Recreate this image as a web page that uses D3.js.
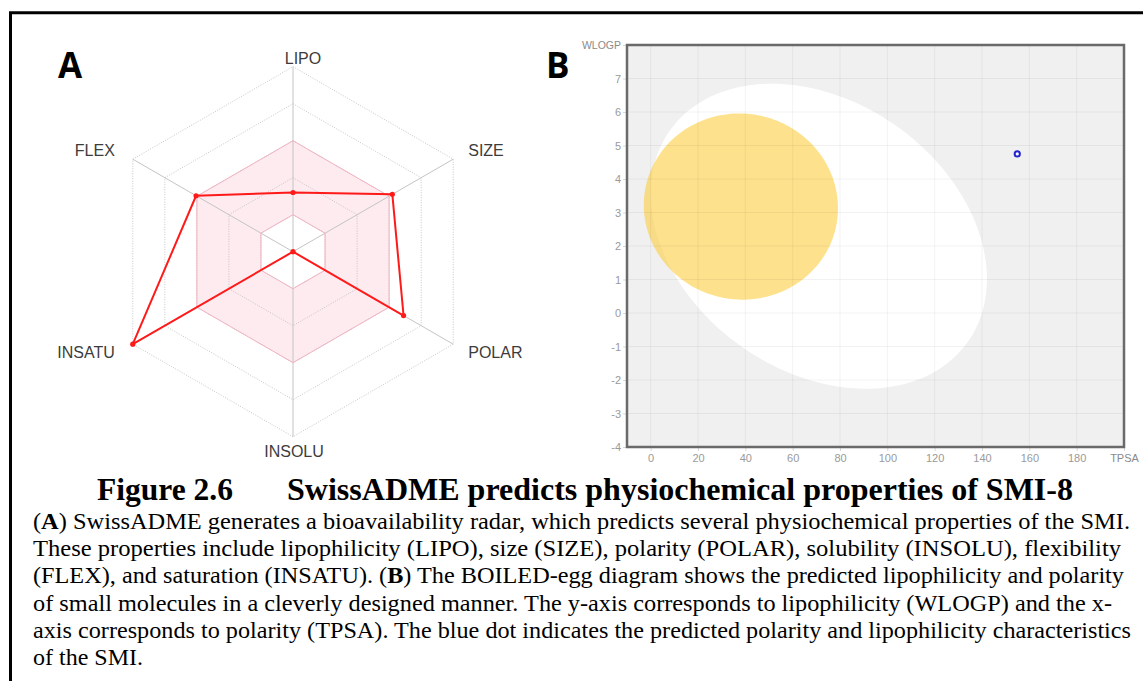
<!DOCTYPE html>
<html>
<head>
<meta charset="utf-8">
<script src="https://cdn.jsdelivr.net/npm/d3@7"></script>
<style>
  body { margin: 0; background: #fff; }
  svg { display: block; }
</style>
</head>
<body>
<div id="chart"></div>
<script>
// Panel A - bioavailability radar (values as fraction of the outer ring)
const radarAxes = ["LIPO", "SIZE", "POLAR", "INSOLU", "INSATU", "FLEX"];
const smiValues = [0.32, 0.62, 0.69, 0.0, 1.0, 0.605];
const optimalBand = [0.2, 0.6];
const ringLevels = [0.2, 0.4, 0.6, 0.8, 1.0];

// Panel B - BOILED-egg (TPSA vs WLOGP)
const tpsaTicks = [0, 20, 40, 60, 80, 100, 120, 140, 160, 180, 200];
const wlogpTicks = [-4, -3, -2, -1, 0, 1, 2, 3, 4, 5, 6, 7, 8];
// [centre TPSA, centre WLOGP, width, height, angle (deg)]
const eggWhite = [71.051, 2.292, 142.081, 8.740, -1.031325];
const eggYolk = [38.117, 3.177, 82.061, 5.557, -0.066235];
const smiPoint = [154.9, 4.75];

// Caption
const captionTitle = ["Figure 2.6", "SwissADME predicts physiochemical properties of SMI-8"];
const captionLines = [
    [["(", false], ["A", true], [") SwissADME generates a bioavailability radar, which predicts several physiochemical properties of the SMI.", false]],
    [["These properties include lipophilicity (LIPO), size (SIZE), polarity (POLAR), solubility (INSOLU), flexibility", false]],
    [["(FLEX), and saturation (INSATU). (", false], ["B", true], [") The BOILED-egg diagram shows the predicted lipophilicity and polarity", false]],
    [["of small molecules in a cleverly designed manner. The y-axis corresponds to lipophilicity (WLOGP) and the x-", false]],
    [["axis corresponds to polarity (TPSA). The blue dot indicates the predicted polarity and lipophilicity characteristics", false]],
    [["of the SMI.", false]]
];
const captionWidths = [1097, 1088, 1091, 1079, 1098, null];

const W = 1143, H = 681;
const svg = d3.select("#chart").append("svg")
    .attr("width", W)
    .attr("height", H);

svg.append("rect").attr("width", W).attr("height", H).attr("fill", "#fff");

// Outer frame (left and top only)
svg.append("path")
    .attr("d", "M10.5," + H + "V12.7H" + W)
    .attr("fill", "none")
    .attr("stroke", "#000")
    .attr("stroke-width", 3);

// Panel letters
svg.append("text").attr("x", 58).attr("y", 78).text("A")
    .style("font-family", "'Open Sans', sans-serif").style("font-weight", 700).style("font-size", "35px");
svg.append("text").attr("x", 546).attr("y", 78).text("B")
    .style("font-family", "'Open Sans', sans-serif").style("font-weight", 700).style("font-size", "35px");

// ---------- Radar ----------
const cx = 293, cy = 251.7, R = 185;
const rScale = d3.scaleLinear().domain([0, 1]).range([0, R]);
const angleOf = i => i * Math.PI / 3;

const radar = svg.append("g").attr("transform", "translate(" + cx + "," + cy + ")");

const ringLine = d3.lineRadial()
    .angle((d, i) => angleOf(i))
    .radius(d => rScale(d))
    .curve(d3.curveLinearClosed);

// optimal band (pink ring)
const bandPath = ringLine(radarAxes.map(() => optimalBand[1])) + ringLine(radarAxes.map(() => optimalBand[0]));
radar.append("path")
    .attr("d", bandPath)
    .attr("fill", "#fdebf0")
    .attr("fill-rule", "evenodd");

// dotted rings
radar.selectAll(".ring")
    .data(ringLevels)
    .enter()
    .append("path")
    .attr("class", "ring")
    .attr("d", lv => ringLine(radarAxes.map(() => lv)))
    .attr("fill", "none")
    .attr("stroke", "#b8b8b8")
    .attr("stroke-width", 0.8)
    .attr("stroke-dasharray", "1,1.5");

// spokes
radar.selectAll(".spoke")
    .data(radarAxes)
    .enter()
    .append("line")
    .attr("x1", 0).attr("y1", 0)
    .attr("x2", (d, i) => rScale(1) * Math.sin(angleOf(i)))
    .attr("y2", (d, i) => -rScale(1) * Math.cos(angleOf(i)))
    .attr("stroke", "#c4c4c4")
    .attr("stroke-width", 1);

// band border
radar.append("path")
    .attr("d", bandPath)
    .attr("fill", "none")
    .attr("stroke", "#f2b3c2")
    .attr("stroke-width", 1);

// SMI polygon
radar.append("path")
    .attr("d", ringLine(smiValues))
    .attr("fill", "none")
    .attr("stroke", "#ff1a1a")
    .attr("stroke-width", 2)
    .attr("stroke-linejoin", "round");

radar.selectAll(".pt")
    .data(smiValues)
    .enter()
    .append("circle")
    .attr("cx", (d, i) => rScale(d) * Math.sin(angleOf(i)))
    .attr("cy", (d, i) => -rScale(d) * Math.cos(angleOf(i)))
    .attr("r", 2.6)
    .attr("fill", "#ff1a1a");

// axis labels
radar.selectAll(".lab")
    .data(radarAxes)
    .enter()
    .append("text")
    .attr("x", (d, i) => {
        const s = Math.sin(angleOf(i));
        const vx = rScale(1) * s;
        if (Math.abs(s) < 0.01) return vx + (i === 0 ? 10 : 1);
        return vx + (s > 0 ? 15 : -18);
    })
    .attr("y", (d, i) => {
        const c = Math.cos(angleOf(i));
        const vy = -rScale(1) * c;
        if (Math.abs(c) > 0.99) return vy + (c > 0 ? -3 : 20);
        return vy + (c > 0 ? -3 : 14);
    })
    .attr("text-anchor", (d, i) => {
        const s = Math.sin(angleOf(i));
        return Math.abs(s) < 0.01 ? "middle" : (s > 0 ? "start" : "end");
    })
    .text(d => d)
    .style("font-family", "'Liberation Sans', Arial, sans-serif")
    .style("font-size", "16px")
    .style("fill", "#3c3c3c");

// ---------- BOILED-egg ----------
const x = d3.scaleLinear().domain([-10, 200]).range([627, 1124]);
const y = d3.scaleLinear().domain([-4, 8]).range([447, 45]);

const egg = svg.append("g");

egg.append("rect")
    .attr("x", x(-10)).attr("y", y(8))
    .attr("width", x(200) - x(-10)).attr("height", y(-4) - y(8))
    .attr("fill", "#f0f0f0");

function ellipsePoints(p) {
    const [ex, ey, ew, eh, deg] = p;
    const a = ew / 2, b = eh / 2, phi = deg * Math.PI / 180;
    return d3.range(0, 361, 2).map(t => {
        const tt = t * Math.PI / 180;
        return [
            ex + a * Math.cos(phi) * Math.cos(tt) - b * Math.sin(phi) * Math.sin(tt),
            ey + a * Math.sin(phi) * Math.cos(tt) + b * Math.cos(phi) * Math.sin(tt)
        ];
    });
}
const eggLine = d3.line().x(d => x(d[0])).y(d => y(d[1])).curve(d3.curveLinearClosed);

egg.append("path")
    .attr("d", eggLine(ellipsePoints(eggWhite)))
    .attr("fill", "#ffffff");

egg.append("path")
    .attr("d", eggLine(ellipsePoints(eggYolk)))
    .attr("fill", "rgba(253, 206, 70, 0.62)");

// grid on top (faint)
egg.selectAll(".vg")
    .data(tpsaTicks.filter(d => d < 200))
    .enter()
    .append("line")
    .attr("x1", d => x(d)).attr("x2", d => x(d))
    .attr("y1", y(8)).attr("y2", y(-4))
    .attr("stroke", "rgba(0,0,0,0.05)")
    .attr("stroke-width", 1);

egg.selectAll(".hg")
    .data(wlogpTicks.filter(d => d > -4 && d < 8))
    .enter()
    .append("line")
    .attr("x1", x(-10)).attr("x2", x(200))
    .attr("y1", d => y(d)).attr("y2", d => y(d))
    .attr("stroke", "rgba(0,0,0,0.05)")
    .attr("stroke-width", 1);

// axes
const xAxis = egg.append("g")
    .attr("transform", "translate(0," + y(-4) + ")")
    .call(d3.axisBottom(x).tickValues(tpsaTicks).tickSize(4).tickPadding(3)
        .tickFormat(d => d === 200 ? "TPSA" : d));

const yAxis = egg.append("g")
    .attr("transform", "translate(" + x(-10) + ",0)")
    .call(d3.axisLeft(y).tickValues(wlogpTicks).tickSize(4).tickPadding(2)
        .tickFormat(d => d === 8 ? "WLOGP" : d));

[xAxis, yAxis].forEach(ax => {
    ax.select(".domain").remove();
    ax.selectAll(".tick line").attr("stroke", "#d8d8d8");
    ax.selectAll(".tick text")
        .style("font-family", "'Liberation Sans', Arial, sans-serif")
        .style("font-size", "11px")
        .style("fill", "#9a9a9a");
});
yAxis.selectAll(".tick text").filter(d => d === 8).style("fill", "#8a8a8a").style("font-size", "10.5px");
xAxis.selectAll(".tick text").filter(d => d === 200).style("fill", "#8a8a8a");

// SMI point
egg.append("circle")
    .attr("cx", x(smiPoint[0]))
    .attr("cy", y(smiPoint[1]))
    .attr("r", 2.6)
    .attr("fill", "#fff")
    .attr("stroke", "#2525d0")
    .attr("stroke-width", 2);

// plot frame
egg.append("rect")
    .attr("x", x(-10)).attr("y", y(8))
    .attr("width", x(200) - x(-10)).attr("height", y(-4) - y(8))
    .attr("fill", "none")
    .attr("stroke", "#6a6a6a")
    .attr("stroke-width", 2.5);

// ---------- Caption ----------
const serif = "'Liberation Serif', 'Times New Roman', serif";
svg.append("text")
    .attr("x", 97).attr("y", 500)
    .attr("textLength", 136).attr("lengthAdjust", "spacingAndGlyphs")
    .text(captionTitle[0])
    .style("font-family", serif).style("font-weight", 700).style("font-size", "31px");
svg.append("text")
    .attr("x", 287).attr("y", 500)
    .attr("textLength", 786).attr("lengthAdjust", "spacingAndGlyphs")
    .text(captionTitle[1])
    .style("font-family", serif).style("font-weight", 700).style("font-size", "31px");

captionLines.forEach((segs, i) => {
    const t = svg.append("text")
        .attr("x", 33)
        .attr("y", 529 + i * 27.2)
        .style("font-family", serif)
        .style("font-size", "24px")
        .style("fill", "#000");
    if (captionWidths[i]) {
        t.attr("textLength", captionWidths[i]).attr("lengthAdjust", "spacingAndGlyphs");
    }
    segs.forEach(s => {
        t.append("tspan")
            .style("font-weight", s[1] ? 700 : 400)
            .text(s[0]);
    });
});
</script>
</body>
</html>
